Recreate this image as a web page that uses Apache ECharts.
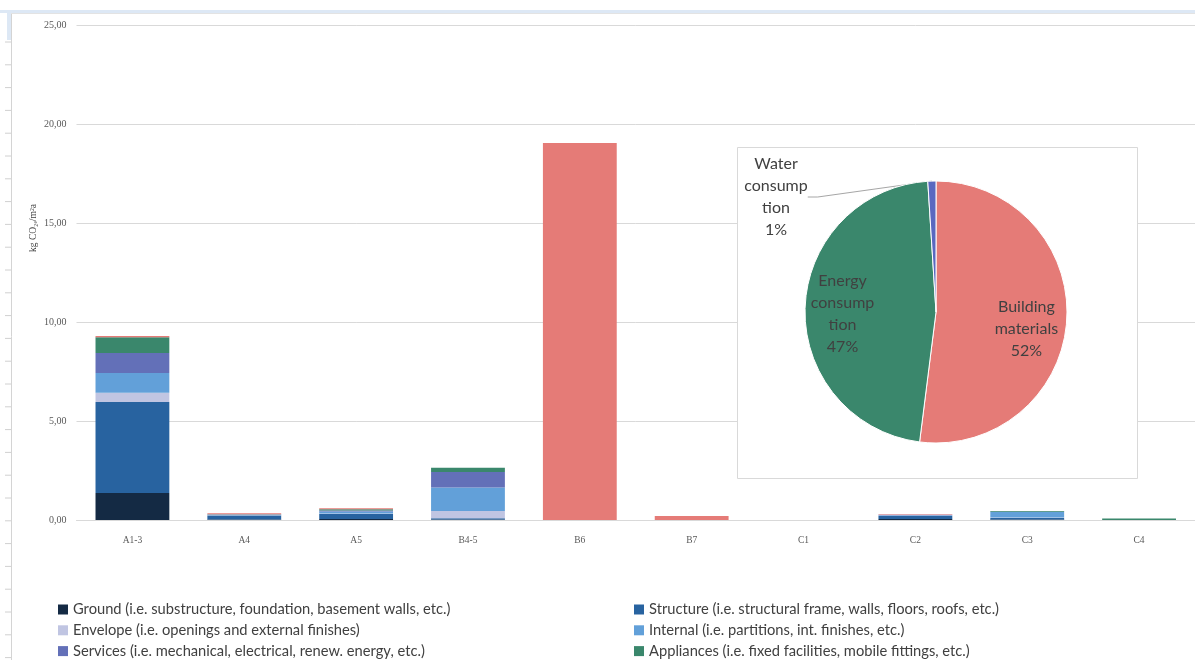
<!DOCTYPE html>
<html>
<head>
<meta charset="utf-8">
<script src="https://cdn.jsdelivr.net/npm/echarts@6/dist/echarts.min.js"></script>
<style>
  html, body { margin: 0; padding: 0; background: #fff; }
  #chart { width: 1195px; height: 660px; }
</style>
</head>
<body>
<div id="chart"></div>
<script>
// Life-cycle stages on the x axis
const stages = ['A1-3', 'A4', 'A5', 'B4-5', 'B6', 'B7', 'C1', 'C2', 'C3', 'C4'];

// Embodied carbon per building element, kg CO2e/m²a
const ground     = [1.36, 0.03, 0.05, 0.02, 0, 0, 0, 0.05, 0.02, 0];
const structure  = [4.60, 0.20, 0.25, 0.07, 0, 0, 0, 0.15, 0.08, 0];
const envelope   = [0.47, 0.01, 0.03, 0.37, 0, 0, 0, 0.01, 0.02, 0];
const internal   = [1.00, 0.03, 0.10, 1.18, 0, 0, 0, 0.03, 0.28, 0];
const services   = [1.00, 0.01, 0.05, 0.78, 0, 0, 0, 0.02, 0.02, 0];
const appliances = [0.80, 0.01, 0.06, 0.22, 0, 0, 0, 0.00, 0.03, 0.08];
const operation  = [0.06, 0.05, 0.05, 0.00, 19.04, 0.20, 0, 0.03, 0, 0];

// Share of total emissions (%)
const shareNames  = ['Building\nmaterials', 'Energy\nconsump\ntion', 'Water\nconsump\ntion'];
const shareValues = [52, 47, 1];

// Y axis ticks
const yMin = 0, yMax = 25, yStep = 5;

const seriesDefs = [
  { name: 'Ground (i.e. substructure, foundation, basement walls, etc.)', data: ground, color: '#142a44' },
  { name: 'Structure (i.e. structural frame, walls, floors, roofs, etc.)', data: structure, color: '#2863a0' },
  { name: 'Envelope (i.e. openings and external finishes)', data: envelope, color: '#c0c5e2' },
  { name: 'Internal (i.e. partitions, int. finishes, etc.)', data: internal, color: '#62a0d9' },
  { name: 'Services (i.e. mechanical, electrical, renew. energy, etc.)', data: services, color: '#6370b8' },
  { name: 'Appliances (i.e. fixed facilities, mobile fittings, etc.)', data: appliances, color: '#3a876c' },
  { name: 'Operation', data: operation, color: '#e57b77' }
];

const barSeries = seriesDefs.map(s => ({
  type: 'bar',
  name: s.name,
  stack: 'total',
  data: s.data,
  barWidth: '66%',
  itemStyle: { color: s.color },
  emphasis: { disabled: true }
}));

const pieColors = ['#e57b77', '#3a876c', '#5a68c0'];

const textFont = 'Lato, "Open Sans", sans-serif';
const axisFont = '"Liberation Serif", "DejaVu Serif", serif';

// thin ruler ticks along the left frame edge
const rulerTicks = [];
for (let y = 42; y < 660; y += 22.8) {
  rulerTicks.push({
    type: 'line', z: 1,
    shape: { x1: 5, y1: y, x2: 11, y2: y },
    style: { stroke: '#d0d0d0', lineWidth: 1 }
  });
}

const legendBase = {
  orient: 'vertical', top: 602, height: 80, padding: 0,
  itemWidth: 10, itemHeight: 10, itemGap: 5.8, icon: 'rect',
  textStyle: { color: '#404040', fontFamily: textFont, fontSize: 14.7, lineHeight: 15 },
  selectedMode: false
};

const option = {
  backgroundColor: '#ffffff',
  animation: false,
  grid: { left: 76.5, right: -2, top: 25, bottom: 140, containLabel: false },
  xAxis: {
    type: 'category',
    data: stages,
    axisLine: { lineStyle: { color: '#d9d9d9', width: 1 } },
    axisTick: { show: false },
    axisLabel: { color: '#595959', fontFamily: axisFont, fontSize: 9.5, margin: 15 }
  },
  yAxis: {
    type: 'value',
    min: yMin, max: yMax, interval: yStep,
    axisLine: { show: false },
    axisTick: { show: false },
    splitLine: { lineStyle: { color: '#d9d9d9', width: 1 } },
    axisLabel: {
      color: '#595959', fontFamily: axisFont, fontSize: 10, margin: 10,
      formatter: v => v.toFixed(2).replace('.', ',')
    }
  },
  legend: [
    Object.assign({}, legendBase, {
      left: 58,
      data: [seriesDefs[0].name, seriesDefs[2].name, seriesDefs[4].name]
    }),
    Object.assign({}, legendBase, {
      left: 634,
      data: [seriesDefs[1].name, seriesDefs[3].name, seriesDefs[5].name]
    })
  ],
  graphic: [
    // window frame
    { type: 'rect', z: 1, shape: { x: 0, y: 10, width: 1195, height: 3 }, style: { fill: '#dde8f5' } },
    { type: 'rect', z: 1, shape: { x: 7, y: 10, width: 4, height: 30 }, style: { fill: '#dde8f5' } },
    { type: 'line', z: 1, shape: { x1: 11.5, y1: 13, x2: 11.5, y2: 660 }, style: { stroke: '#d4d4d4', lineWidth: 1 } },
    { type: 'line', z: 1, shape: { x1: 11, y1: 13.5, x2: 1195, y2: 13.5 }, style: { stroke: '#e3e3e3', lineWidth: 1 } },
    ...rulerTicks,
    // y axis title
    {
      type: 'text', z: 5, x: 33, y: 228, rotation: Math.PI / 2,
      style: {
        text: 'kg CO₂ₑ/m²a', fill: '#404040', font: '9.5px ' + axisFont,
        align: 'center', verticalAlign: 'middle'
      }
    },
    // inset box behind the pie
    {
      type: 'rect', z: 5,
      shape: { x: 737.5, y: 147.5, width: 400, height: 331 },
      style: { fill: '#ffffff', stroke: '#d9d9d9', lineWidth: 1 }
    }
  ],
  series: [
    ...barSeries,
    {
      type: 'pie',
      z: 10,
      center: [936, 312],
      radius: 131,
      startAngle: 90,
      clockwise: true,
      avoidLabelOverlap: false,
      emphasis: { disabled: true },
      itemStyle: { borderColor: '#ffffff', borderWidth: 1 },
      label: {
        show: true,
        position: 'inside',
        color: '#404040',
        fontFamily: textFont,
        fontSize: 16,
        lineHeight: 22,
        align: 'center',
        formatter: p => p.name + '\n' + Math.round(p.percent) + '%'
      },
      labelLine: { show: false },
      labelLayout: p => {
        if (p.dataIndex === 0) return { dx: 22, dy: 13 };
        if (p.dataIndex === 1) return { dx: -25, dy: 4 };
        return { x: 776, y: 197, align: 'center', verticalAlign: 'middle' };
      },
      data: shareNames.map((n, i) => {
        const d = { name: n, value: shareValues[i], itemStyle: { color: pieColors[i] } };
        if (i === 2) {
          d.label = { position: 'outside', distanceToLabelLine: 2 };
          d.labelLine = { show: true, length: 10, length2: 10, lineStyle: { color: '#a6a6a6', width: 1 } };
        }
        return d;
      })
    }
  ]
};

const chart = echarts.init(document.getElementById('chart'), null, { renderer: 'canvas' });
chart.setOption(option);
</script>
</body>
</html>
